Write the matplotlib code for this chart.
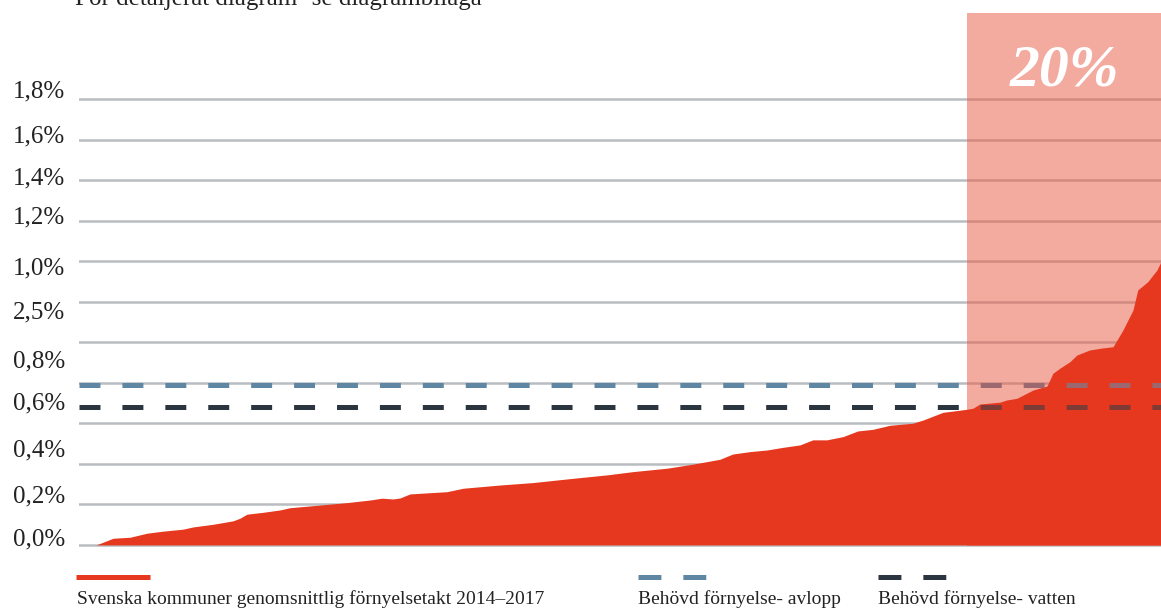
import matplotlib
matplotlib.use("Agg")
import matplotlib.pyplot as plt
from matplotlib.lines import Line2D
from matplotlib.patches import Rectangle

plt.rcParams["font.family"] = ["Liberation Serif", "DejaVu Serif"]
plt.rcParams["lines.scale_dashes"] = False

# kommuner sorted by renewal rate (rank) and their average renewal rate 2014-2017 (%)
rank = [1.3, 5.9, 10.5, 15.1, 19.4, 24.9, 27.6, 33.0, 38.4, 40.3, 42.2, 46.5, 51.2,
        53.9, 60.1, 69.3, 75.6, 78.8, 81.8, 83.7, 86.4, 96.4, 100.8, 110.8, 119.7,
        129.0, 139.8, 146.8, 156.1, 163.1, 170.4, 173.9, 178.6, 183.2, 187.5, 192.1,
        195.6, 199.4, 203.8, 207.8, 211.9, 216.5, 222.7, 225.5, 230.9, 237.4, 239.0,
        240.9, 246.3, 248.2, 250.9, 255.3, 259.1, 260.7, 262.6, 265.3, 267.2, 270.7,
        274.2, 277.0, 279.7, 282.4, 283.7, 286.4, 288.9, 290.0]
takt = [0.000, 0.033, 0.038, 0.058, 0.068, 0.078, 0.089, 0.102, 0.119, 0.132, 0.152,
        0.161, 0.173, 0.184, 0.194, 0.209, 0.222, 0.231, 0.227, 0.232, 0.252, 0.263,
        0.280, 0.296, 0.308, 0.326, 0.346, 0.362, 0.379, 0.399, 0.423, 0.449, 0.461,
        0.469, 0.482, 0.494, 0.519, 0.519, 0.535, 0.563, 0.571, 0.591, 0.601, 0.617,
        0.655, 0.670, 0.675, 0.696, 0.705, 0.716, 0.724, 0.765, 0.785, 0.848, 0.873,
        0.905, 0.938, 0.963, 0.973, 0.979, 1.062, 1.160, 1.259, 1.300, 1.358, 1.399]

behov_avlopp = 0.79
behov_vatten = 0.68

top20_start = 237.4
top20_label = "20%"

grid_vals = [0.0, 0.2, 0.4, 0.6, 0.8, 1.0, 1.2, 1.4, 1.6, 1.8, 2.0, 2.2]
tick_labels = ["0,0%", "0,2%", "0,4%", "0,6%", "0,8%", "2,5%",
               "1,0%", "1,2%", "1,4%", "1,6%", "1,8%"]
tick_pos = [0.04, 0.25, 0.48, 0.71, 0.92, 1.16, 1.38, 1.63, 1.82, 2.03, 2.25]

legend_labels = ["Svenska kommuner genomsnittlig förnyelsetakt 2014–2017",
                 "Behövd förnyelse- avlopp", "Behövd förnyelse- vatten"]

RED = "#E5381E"
GRID = "#B9BDC1"
BLUE = "#5F87A3"
DARK = "#2B3540"
BLUE_ON_PINK = "#9C6870"
DARK_ON_PINK = "#7E3A34"

W, H = 1161, 608
fig = plt.figure(figsize=(W / 100, H / 100), dpi=100)
ax = fig.add_axes([79 / W, (H - 549) / H, 1 - 79 / W, 537 / H])
XMIN, XMAX = -3.34, 290.0
YMIN, YMAX = -0.02, 2.632
ax.set_xlim(XMIN, XMAX)
ax.set_ylim(YMIN, YMAX)
for s in ax.spines.values():
    s.set_visible(False)
ax.set_xticks([])
ax.set_yticks(tick_pos, tick_labels)
ax.tick_params(axis="y", length=0, pad=10, labelsize=18, labelcolor="#222222")

for g in grid_vals:
    ax.axhline(g, color=GRID, lw=1.8, zorder=1)

# top 20 % band, semi-transparent so the grid shows through darker
ax.add_patch(Rectangle((top20_start, -0.005), XMAX - top20_start, YMAX,
                       facecolor="#E95741", alpha=0.5, edgecolor="none", zorder=2))
ax.text((top20_start + XMAX) / 2, 2.34, top20_label, color="white", fontsize=43,
        fontweight="bold", fontstyle="italic", ha="center", va="center", zorder=6)

ax.fill_between(rank, 0, takt, color=RED, lw=0, zorder=3)

left_clip = Rectangle((XMIN, YMIN), top20_start - XMIN, YMAX - YMIN,
                      transform=ax.transData, visible=False)
right_clip = Rectangle((top20_start, YMIN), XMAX - top20_start, YMAX - YMIN,
                       transform=ax.transData, visible=False)
ax.add_patch(left_clip)
ax.add_patch(right_clip)
for val, c_plain, c_pink in [(behov_avlopp, BLUE, BLUE_ON_PINK),
                             (behov_vatten, DARK, DARK_ON_PINK)]:
    for col, clip in [(c_plain, left_clip), (c_pink, right_clip)]:
        ln, = ax.plot([XMIN, XMAX], [val, val], color=col, lw=3.6,
                      dashes=(15.1, 15.8), solid_capstyle="butt",
                      dash_capstyle="butt", zorder=4)
        ln.set_clip_path(clip)

# header (runs past the top edge)
fig.text(75 / W, 1 - 5 / H, "För detaljerat diagram- se diagrambilaga",
         fontsize=18, color="#222222", ha="left", va="baseline")

# legend
ly = 1 - 577 / H
fig.add_artist(Line2D([76 / W, 150 / W], [ly, ly], color=RED, lw=3.6,
                      solid_capstyle="butt"))
fig.add_artist(Line2D([638 / W, 706 / W], [ly, ly], color=BLUE, lw=3.6,
                      dashes=(16.5, 15.8), dash_capstyle="butt"))
fig.add_artist(Line2D([878 / W, 946 / W], [ly, ly], color=DARK, lw=3.6,
                      dashes=(16.5, 15.8), dash_capstyle="butt"))
ty = 1 - 604 / H
for x0, lab in zip([77, 638, 878], legend_labels):
    fig.text(x0 / W, ty, lab, fontsize=14, color="#222222", ha="left", va="baseline")

fig.savefig("out.png", dpi=100)
